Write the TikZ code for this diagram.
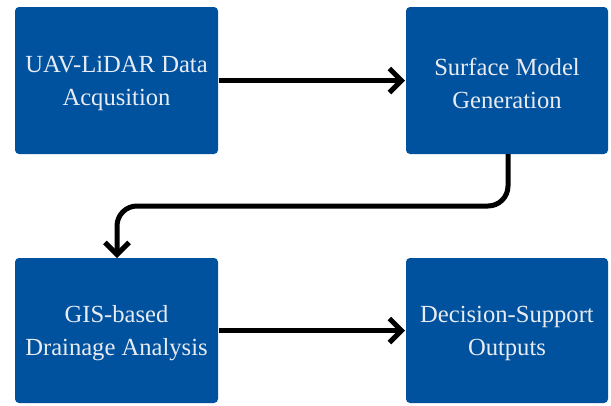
\documentclass[tikz,border=0pt]{standalone}
\usepackage{fontspec}
\setmainfont{Liberation Serif}
\usetikzlibrary{arrows.meta}
\definecolor{boxblue}{RGB}{0,81,158}
\definecolor{boxtext}{RGB}{232,236,242}
\begin{document}
\begin{tikzpicture}[x=1pt,y=-1pt,
  stagebox/.style={fill=boxblue, rounded corners=4pt},
  stagetext/.style={text=boxtext, font=\fontsize{24.6}{33}\selectfont,
    align=center, inner sep=0pt},
  flow/.style={line width=5pt, -{Straight Barb[length=12pt,width=24pt]}}]
\useasboundingbox (0,0) rectangle (611,405);
% four stage boxes
\path[stagebox] (15,7) rectangle (218,154);
\node[stagetext] (acq) at (116.5,83) {UAV-LiDAR Data\\Acqusition};
\path[stagebox] (406,7) rectangle (608,154);
\node[stagetext] (surf) at (507,83) {Surface Model\\Generation};
\path[stagebox] (15,258) rectangle (218,403);
\node[stagetext] (gis) at (116.5,333) {GIS-based\\Drainage Analysis};
\path[stagebox] (406,258) rectangle (608,403);
\node[stagetext] (dec) at (507,333) {Decision-Support\\Outputs};
% anchors on box edges
\coordinate (acqE) at (219,80.5);
\coordinate (surfW) at (405,80.5);
\coordinate (surfS) at (508,154);
\coordinate (gisN) at (117,258);
\coordinate (gisE) at (219,330.5);
\coordinate (decW) at (405,330.5);
% connectors
\draw[flow] (acqE) -- (surfW);
\draw[flow, rounded corners=20pt] (surfS) -- (508,206) -- (117,206) -- (gisN);
\draw[flow] (gisE) -- (decW);
\end{tikzpicture}
\end{document}
